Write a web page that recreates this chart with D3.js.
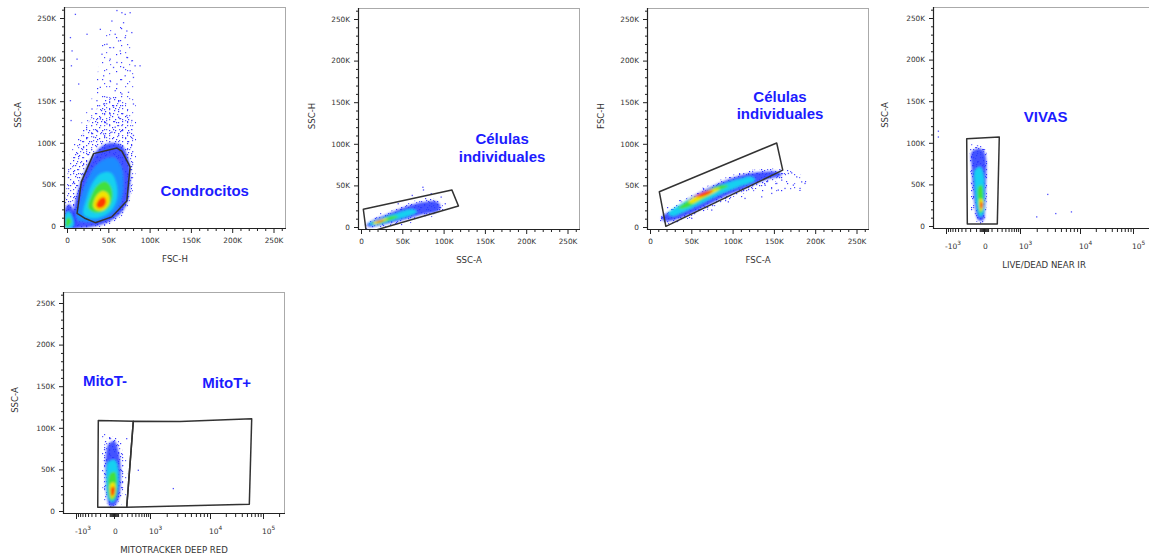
<!DOCTYPE html>
<html>
<head>
<meta charset="utf-8">
<script src="https://cdn.jsdelivr.net/npm/d3@7"></script>
<style>
html, body { margin: 0; padding: 0; background: #fff; }
svg { display: block; }
</style>
</head>
<body>
<svg id="chart" width="1149" height="556"></svg>
<script>
// ---------- axis definitions ----------
const linearTicks = [0, 50, 100, 150, 200, 250];            // thousands
const linearTickLabels = ["0", "50K", "100K", "150K", "200K", "250K"];
const logTicks = [-1000, 0, 1000, 10000, 100000];
const logTickLabels = [["-10", "3"], ["0", ""], ["10", "3"], ["10", "4"], ["10", "5"]];
const logMinorTicks = [-900,-800,-700,-600,-500,-400,-300,-200,-100,
  -50,-40,-30,-20,-10,10,20,30,40,50,
  100,200,300,400,500,600,700,800,900,
  2000,3000,4000,5000,6000,7000,8000,9000,
  20000,30000,40000,50000,60000,70000,80000,90000,200000];

// ---------- Condrocitos: FSC-H vs SSC-A (values in K) ----------
const condrocitosDensity = [
  {level: "sparse", pts: [[-0.7,-2.4],[-0.7,55],[4.1,90.9],[18.6,126.8],[32,160],[40,200],[48,235],[66,240],[78,215],[82.4,162.7],[83.7,102.9],[80,43.1],[64.4,9.6],[34.2,-2.4]]},
  {level: "mid", pts: [[-0.7,-2.4],[-0.7,45],[3,75],[14,100],[28,128],[42,148],[56,156],[68,150],[77,128],[81,95],[80,55],[72,20],[55,4],[28,-2.4]]},
  {level: "blue", pts: [[4,-2.4],[8,20],[13,42],[20,62],[30,82],[42,96],[55,100],[67,96],[75,78],[76,45],[70,22],[56,8],[36,0],[15,-2.4]]},
  {level: "blue", pts: [[-1.9,-2.4],[-1.9,22],[3,26],[9,15],[10,0]]},
  {level: "lightblue", pts: [[12,8],[16,30],[23,52],[33,70],[45,80],[57,82],[66,70],[68,44],[62,22],[48,10],[30,5]]},
  {level: "cyan", pts: [[20,14],[24,34],[31,52],[41,63],[53,64],[60,50],[60,31],[52,17],[38,10],[27,10]]},
  {level: "cyan", pts: [[-1.9,-2.4],[-1.9,13.2],[1.7,17],[6.5,11],[7.7,0]]},
  {level: "green", pts: [[25.8,21.5],[29.4,37.1],[36.6,49],[46.3,53.8],[53.5,46.7],[54.7,32.3],[48.7,20.3],[35.4,15.6]]},
  {level: "green", pts: [[-0.7,-1.2],[-0.7,8.4],[2.9,10],[5.3,4.8]]},
  {level: "yellow", pts: [[31.8,23.9],[35.4,35.9],[42.7,41.9],[49.9,38.3],[51.1,27.5],[43.9,19.1],[35.4,19.1]]},
  {level: "red", pts: [[35.4,25.1],[39.1,32.3],[45.1,34.7],[47.5,28.7],[43.9,22.7],[37.8,21.5]]}
];
const condrocitosEvents = [[60.4,259],[66.4,256.4],[70.4,254.4],[76.4,256.4],[54.3,246.4],[68.4,244.4],[72.4,234.4],[40.3,236.4],
  [58.3,230.5],[62.4,222.5],[70.4,226.5],[78.4,232.5],[48.3,218.5],[56.3,214.5],[64.4,210.5],[72.4,202.6],[78.4,198.6],
  [82.4,192.6],[88.4,192.6],[42.3,206.5],[52.3,200.6],[60.4,196.6],[56.3,190.6],[68.4,190.6],[76.4,186.6],[44.3,180.6],
  [52.3,174.6],[60.4,170.7],[70.4,180.6],[80.4,178.6],[40.3,166.7],[58.3,162.7],[66.4,158.7],[48.3,154.7],[74.4,160.7],
  [36.2,150.7],[44.3,146.7],[56.3,142.7],[64.4,150.7],[80.4,146.7],[30.2,140.7],[52.3,134.8],[62.4,130.8],[72.4,132.8],
  [40.3,128.8],[48.3,122.8],[58.3,118.8],[66.4,120.8],[78.4,126.8],[36.2,114.8],[44.3,110.8],[54.3,112.8],[62.4,108.9],
  [80.4,108.9],[32.2,106.9],[10.1,254.4],[4.1,226.5],[6.1,210.5],[5.3,192.6],[14.1,170.7],[4.1,150.7],[4.9,126.8],
  [12.1,200.6],[24.2,230.5]];
const condrocitosGate = [[12.2,15.2],[17.4,53],[32.2,87],[60.4,93.7],[66.4,90],[76.4,71],[72.4,30],[54.4,11],[34.2,4],[22.2,9]];

// ---------- Células individuales: SSC-A vs SSC-H ----------
const sscSingletsDensity = [
  {level: "sparse", pts: [[3,0],[14,12],[35,21],[60,30],[80,36],[95,37],[102,30],[100,17],[80,10],[55,3],[30,-2],[8,-3]]},
  {level: "mid", pts: [[5,1],[15,10],[33,18],[53,26],[75,32],[92,34],[99,27],[96,17],[75,12],[53,6],[33,1],[15,-1],[6,-2]]},
  {level: "blue", pts: [[6.9,3],[17,9.4],[33.1,16],[53.4,24],[73.7,29.6],[89.8,31],[95.9,26.5],[93.8,19.5],[73.7,15],[53.4,9],[33.1,4.2],[17,0.8],[8.9,0.4]]},
  {level: "cyan", pts: [[8.9,3.6],[25.1,10.5],[45.3,17.2],[61.5,21.3],[67.6,18.4],[57.4,13.3],[37.3,7.6],[17,2.4]]},
  {level: "green", pts: [[13,4.5],[25.1,9.3],[39.2,13.6],[45.3,12.4],[33.1,7.6],[19.1,3.3]]},
  {level: "yellow", pts: [[14.9,5.2],[27.1,9.6],[33.1,10],[25.1,6.4],[17,3.6]]},
  {level: "red", pts: [[17.8,5.7],[25.1,8.4],[28.3,8.1],[21.8,5.7]]}
];
const sscSingletsEvents = [[74.9,47.8],[75.6,44.6],[62,38],[85,40],[97,36],[102,28],[45,28]];
const sscSingletsGate = [[2.8,21.3],[110,44.6],[118,25.3],[6.5,-7]];

// ---------- Células individuales: FSC-A vs FSC-H ----------
const fscSingletsDensity = [
  {level: "sparse", pts: [[12.1,14.4],[54.5,42.3],[106.9,65.1],[147.3,70.4],[175.5,66.3],[189.7,56.4],[183.6,44.4],[163.4,42.3],[135.2,38.4],[106.9,34.4],[74.7,22.4],[42.4,10.4],[18.2,4.4]]},
  {level: "mid", pts: [[12,13],[30,25],[54,41],[83,56],[111,66],[137,70],[158,69],[165,62],[145,52],[118,42],[96,34],[72,22],[46,10],[26,4],[14,5]]},
  {level: "blue", pts: [[14.2,11.6],[30.3,22.4],[54.5,38.4],[82.7,52.4],[111,62.4],[135.2,66.3],[155.3,66.3],[159.4,62.4],[139.2,56.4],[115,46.4],[94.8,38.4],[70.6,26.4],[46.4,14.4],[26.3,7.6],[16.1,7.6]]},
  {level: "cyan", pts: [[22.2,16.4],[42.4,30.3],[66.6,42.3],[90.8,52.4],[106.9,57.2],[123.1,60.3],[127.1,56.4],[106.9,48.3],[82.7,38.4],[58.5,26.4],[38.4,17.1],[26.3,13.2]]},
  {level: "green", pts: [[34.3,22.4],[50.5,34.4],[66.6,42.3],[86.8,50.4],[94.8,49.2],[80.7,42.3],[62.6,32.4],[42.4,22.4]]},
  {level: "yellow", pts: [[46.4,30.3],[60.5,39.6],[74.7,45.2],[84.7,46.8],[78.7,42],[64.5,35.6],[50.5,28.4]]},
  {level: "red", pts: [[54.5,36.3],[66.6,42.3],[76.6,44.4],[72.6,40.4],[60.5,36.3]]}
];
const fscSingletsEvents = [[167.5,64.4],[177.6,60.3],[183.6,54.3],[187.6,52.4],[173.5,50.4],[163.4,46.4],[181.6,46.4],[155.3,44.4],
  [147.3,40.4],[135.2,36.3],[115,34.4],[94.8,30.3],[74.7,20.4],[50.5,10.4],[171.5,65.1],[159.4,56.4],[153.4,52.4],[139.2,50.4]];
const fscSingletsGate = [[11.3,42.3],[153.4,101],[160.7,68.3],[19.2,0.8]];

// ---------- VIVAS: LIVE/DEAD NEAR IR vs SSC-A ----------
const vivasDensity = [
  {level: "sparse", pts: [[-240,95],[-46,100],[30,93],[45,47],[30,10],[-5,2],[-90,2],[-170,15],[-220,50]]},
  {level: "mid", pts: [[-200,92],[-46,97],[20,90],[35,47],[20,15],[-5,4],[-80,4],[-140,20],[-180,47],[-200,75]]},
  {level: "blue", pts: [[-171,89],[-46,93],[11,87],[23,47],[11,19],[-7,7],[-68,7],[-116,23],[-153,47],[-171,71]]},
  {level: "cyan", pts: [[-116,67],[-46,71],[-7,63],[3,35],[-7,15],[-46,11],[-91,23],[-116,47]]},
  {level: "green", pts: [[-68,47],[-26,49],[-7,35],[-14,19],[-46,15],[-68,27]]},
  {level: "yellow", pts: [[-46,33],[-14,31],[-14,21],[-38,18],[-55,25]]},
  {level: "red", pts: [[-40,29],[-20,28],[-20,22],[-38,21]]}
];
const vivasEvents = [[-1480,114],[-1480,107],[1993,11],[3053,38],[4124,15],[7330,17]];
const vivasGate = [[-270,105],[245,107],[203,2.4],[-257,2.4]];

// ---------- MitoTracker Deep Red vs SSC-A ----------
const mitoDensity = [
  {level: "sparse", pts: [[-143,92],[11,95],[140,80],[200,50],[140,12],[11,3],[-80,3],[-143,20],[-170,50]]},
  {level: "mid", pts: [[-91,87],[11,89],[103,75],[159,47],[103,19],[11,7],[-68,7],[-116,19],[-143,47],[-143,71]]},
  {level: "blue", pts: [[-70,80],[5,84],[60,70],[90,45],[60,15],[5,6],[-50,6],[-90,18],[-110,45],[-100,68]]},
  {level: "cyan", pts: [[-68,59],[11,61],[53,47],[40,23],[-7,11],[-55,13],[-91,27],[-91,47]]},
  {level: "green", pts: [[-46,45],[11,47],[32,31],[11,15],[-38,13],[-68,27]]},
  {level: "yellow", pts: [[-38,33],[3,34],[11,21],[-26,15],[-46,23]]},
  {level: "red", pts: [[-30,28],[0,29],[3,21],[-25,18],[-35,22]]}
];
const mitoEvents = [[490,49],[2578,27],[190,87]];
const mitoNegGate = [[-236,108.9],[343,108],[191,4.4],[-248,4.4]];
const mitoPosGate = [[343,108],[3330,107.6],[61400,110.9],[55400,8],[191,4.4]];

// ---------- panel layout ----------
const W = 222, H = 222;
const logOffsets = [13, 51, 87, 147, 200];
const levelFill = {blue: "#2a3cff", lightblue: "#1a8cff", cyan: "#14d0f0", green: "#42e03c", yellow: "#f2e400", red: "#ff3a00"};

const panels = [
  {left: 64, top: 7, log: false, xTitle: "FSC-H", yTitle: "SSC-A", density: condrocitosDensity, events: condrocitosEvents,
   gates: [condrocitosGate], labels: [{text: "Condrocitos", x: 166.8, y: 43}]},
  {left: 358, top: 8, log: false, xTitle: "SSC-A", yTitle: "SSC-H", density: sscSingletsDensity, events: sscSingletsEvents,
   gates: [sscSingletsGate], labels: [{text: "Células", x: 170.8, y: 106}, {text: "individuales", x: 170.8, y: 84.3}]},
  {left: 647, top: 8, log: false, xTitle: "FSC-A", yTitle: "FSC-H", density: fscSingletsDensity, events: fscSingletsEvents,
   gates: [fscSingletsGate], labels: [{text: "Células", x: 157.4, y: 157.4}, {text: "individuales", x: 157.4, y: 136.3}]},
  {left: 933, top: 7, log: true, xTitle: "LIVE/DEAD NEAR IR", yTitle: "SSC-A", density: vivasDensity, events: vivasEvents,
   gates: [vivasGate], labels: [{text: "VIVAS", x: 2826, y: 131.4}]},
  {left: 63, top: 292, log: true, xTitle: "MITOTRACKER DEEP RED", yTitle: "SSC-A", density: mitoDensity, events: mitoEvents,
   gates: [mitoNegGate, mitoPosGate], labels: [{text: "MitoT-", x: -116, y: 156.7}, {text: "MitoT+", x: 20780, y: 154.3}]}
];

const svg = d3.select("#chart");
const defs = svg.append("defs");

// speckle textures for the low-density event zones (irregular dot placement inside each tile)
function speckle(id, w, h, dots) {
  const p = defs.append("pattern").attr("id", id).attr("patternUnits", "userSpaceOnUse")
    .attr("width", w).attr("height", h);
  dots.forEach(d => p.append("rect").attr("x", d[0]).attr("y", d[1]).attr("width", 1.2).attr("height", 1.2)
    .attr("fill", d[2]));
}
speckle("sparseA", 19, 17, [[2, 3, "#3030ff"], [11, 1, "#6060ff"], [7, 11, "#4040ff"], [15, 13, "#7070ff"]]);
speckle("sparseB", 23, 13, [[5, 1, "#3a3aff"], [17, 8, "#6a6aff"], [12, 5, "#4c4cff"]]);
speckle("midA", 13, 11, [[1, 1, "#3030ff"], [5, 3, "#5050ff"], [10, 0, "#3c3cff"], [8, 6, "#2a2aff"],
  [2, 8, "#5a5aff"], [11, 9, "#3535ff"], [5, 9, "#4444ff"], [0, 4, "#6060ff"]]);
speckle("midB", 9, 8, [[5, 1, "#3c3cff"], [1, 5, "#4a4aff"]]);

defs.append("filter").attr("id", "soft").attr("x", "-20%").attr("y", "-20%").attr("width", "140%").attr("height", "140%")
  .append("feGaussianBlur").attr("stdDeviation", 1.1);
defs.append("filter").attr("id", "gateSoft")
  .append("feGaussianBlur").attr("stdDeviation", 0.35);

const tickFont = "'DejaVu Sans', sans-serif";

panels.forEach((p, pi) => {
  const bottom = p.top + H, right = p.left + W;
  const x = p.log
    ? d3.scaleSymlog().constant(250).domain(logTicks).range(logOffsets.map(o => p.left + o))
    : d3.scaleLinear().domain([0, 250]).range([p.left + 3, p.left + 209.5]);
  const y = d3.scaleLinear().domain([0, 250]).range([bottom - 3, bottom - 211]);

  const g = svg.append("g");
  defs.append("clipPath").attr("id", "clip" + pi)
    .append("rect").attr("x", p.left).attr("y", p.top).attr("width", W).attr("height", H);
  const plot = g.append("g").attr("clip-path", `url(#clip${pi})`);

  const smooth = d3.line().x(d => x(d[0])).y(d => y(d[1])).curve(d3.curveCatmullRomClosed.alpha(0.5));
  const poly = d3.line().x(d => x(d[0])).y(d => y(d[1])).curve(d3.curveLinearClosed);

  // low-density speckle zones
  p.density.filter(l => l.level === "sparse").forEach(l => {
    plot.append("path").attr("d", smooth(l.pts)).attr("fill", "url(#sparseA)");
    plot.append("path").attr("d", smooth(l.pts)).attr("fill", "url(#sparseB)");
  });
  p.density.filter(l => l.level === "mid").forEach(l => {
    plot.append("path").attr("d", smooth(l.pts)).attr("fill", "url(#midA)");
    plot.append("path").attr("d", smooth(l.pts)).attr("fill", "url(#midB)");
  });

  // pseudocolour density levels
  const dens = plot.append("g").attr("filter", "url(#soft)");
  p.density.filter(l => levelFill[l.level]).forEach(l => {
    dens.append("path").attr("d", smooth(l.pts)).attr("fill", levelFill[l.level])
      .attr("fill-opacity", l.level === "blue" ? 0.88 : 1);
  });

  // isolated events
  plot.selectAll(null).data(p.events).enter().append("rect")
    .attr("x", d => x(d[0]) - 0.6).attr("y", d => y(d[1]) - 0.6)
    .attr("width", 1.3).attr("height", 1.3).attr("fill", "#3030ff").attr("fill-opacity", 0.85);

  // gates
  p.gates.forEach(gt => {
    plot.append("path").attr("d", poly(gt)).attr("fill", "none")
      .attr("stroke", "#333").attr("stroke-width", 1.5).attr("stroke-linejoin", "round")
      .attr("filter", "url(#gateSoft)");
  });

  // frame
  g.append("line").attr("x1", p.left).attr("x2", right).attr("y1", p.top + 0.5).attr("y2", p.top + 0.5)
    .attr("stroke", "#aaa").attr("stroke-width", 1);
  g.append("line").attr("x1", right - 0.5).attr("x2", right - 0.5).attr("y1", p.top).attr("y2", bottom)
    .attr("stroke", "#aaa").attr("stroke-width", 1);
  g.append("line").attr("x1", p.left + 0.5).attr("x2", p.left + 0.5).attr("y1", p.top).attr("y2", bottom)
    .attr("stroke", "#222").attr("stroke-width", 1.2);
  g.append("line").attr("x1", p.left).attr("x2", right).attr("y1", bottom - 0.5).attr("y2", bottom - 0.5)
    .attr("stroke", "#222").attr("stroke-width", 1.2);

  // y axis
  const minorLin = d3.range(10, 261, 10).filter(v => v % 50 !== 0);
  const yMinor = g.append("g").attr("transform", `translate(${p.left},0)`)
    .call(d3.axisLeft(y).tickValues(minorLin).tickSize(2).tickFormat(""));
  const yMajor = g.append("g").attr("transform", `translate(${p.left},0)`)
    .call(d3.axisLeft(y).tickValues(linearTicks).tickSize(4).tickPadding(4).tickFormat((d, i) => linearTickLabels[i]));

  // x axis
  let xAxes;
  if (!p.log) {
    const xMinor = g.append("g").attr("transform", `translate(0,${bottom})`)
      .call(d3.axisBottom(x).tickValues(minorLin).tickSize(2).tickFormat(""));
    const xMajor = g.append("g").attr("transform", `translate(0,${bottom})`)
      .call(d3.axisBottom(x).tickValues(linearTicks).tickSize(4).tickPadding(5).tickFormat((d, i) => linearTickLabels[i]));
    xAxes = [xMinor, xMajor];
  } else {
    const xMinor = g.append("g").attr("transform", `translate(0,${bottom})`)
      .call(d3.axisBottom(x).tickValues(logMinorTicks).tickSize(3).tickFormat(""));
    const xMajor = g.append("g").attr("transform", `translate(0,${bottom})`)
      .call(d3.axisBottom(x).tickValues(logTicks).tickSize(5).tickFormat(""));
    xAxes = [xMinor, xMajor];
    const lab = g.append("g").attr("font-family", tickFont).attr("font-size", 7.5).attr("fill", "#333");
    logTicks.forEach((t, i) => {
      const txt = lab.append("text").attr("x", x(t) - 1).attr("y", bottom + 20).attr("text-anchor", "start");
      txt.append("tspan").text(logTickLabels[i][0]);
      if (logTickLabels[i][1]) txt.append("tspan").attr("dy", -4).attr("font-size", 5.8).text(logTickLabels[i][1]);
    });
  }
  [yMinor, yMajor, ...xAxes].forEach(a => {
    a.select(".domain").remove();
    a.selectAll(".tick line").attr("stroke", "#222").attr("stroke-width", 1);
    a.selectAll(".tick text").attr("font-family", tickFont).attr("font-size", 7.3).attr("fill", "#333");
  });

  // axis titles
  g.append("text").attr("x", p.left + W / 2).attr("y", bottom + (p.log ? 39 : 33)).attr("text-anchor", "middle")
    .attr("font-family", tickFont).attr("font-size", 8.6).attr("fill", "#333").text(p.xTitle);
  g.append("text").attr("transform", `translate(${p.left - (p.log ? 48 : 46)},${p.top + 108}) rotate(-90)`)
    .attr("text-anchor", "middle").attr("dominant-baseline", "central")
    .attr("font-family", tickFont).attr("font-size", 8.6).attr("fill", "#333").text(p.yTitle);

  // population labels
  p.labels.forEach(l => {
    g.append("text").attr("x", x(l.x)).attr("y", y(l.y)).attr("text-anchor", "middle").attr("dominant-baseline", "central")
      .attr("font-family", "'Liberation Sans', Arial, sans-serif").attr("font-weight", "bold").attr("font-size", 15)
      .attr("fill", "#1c1cff").text(l.text);
  });
});
</script>
</body>
</html>
